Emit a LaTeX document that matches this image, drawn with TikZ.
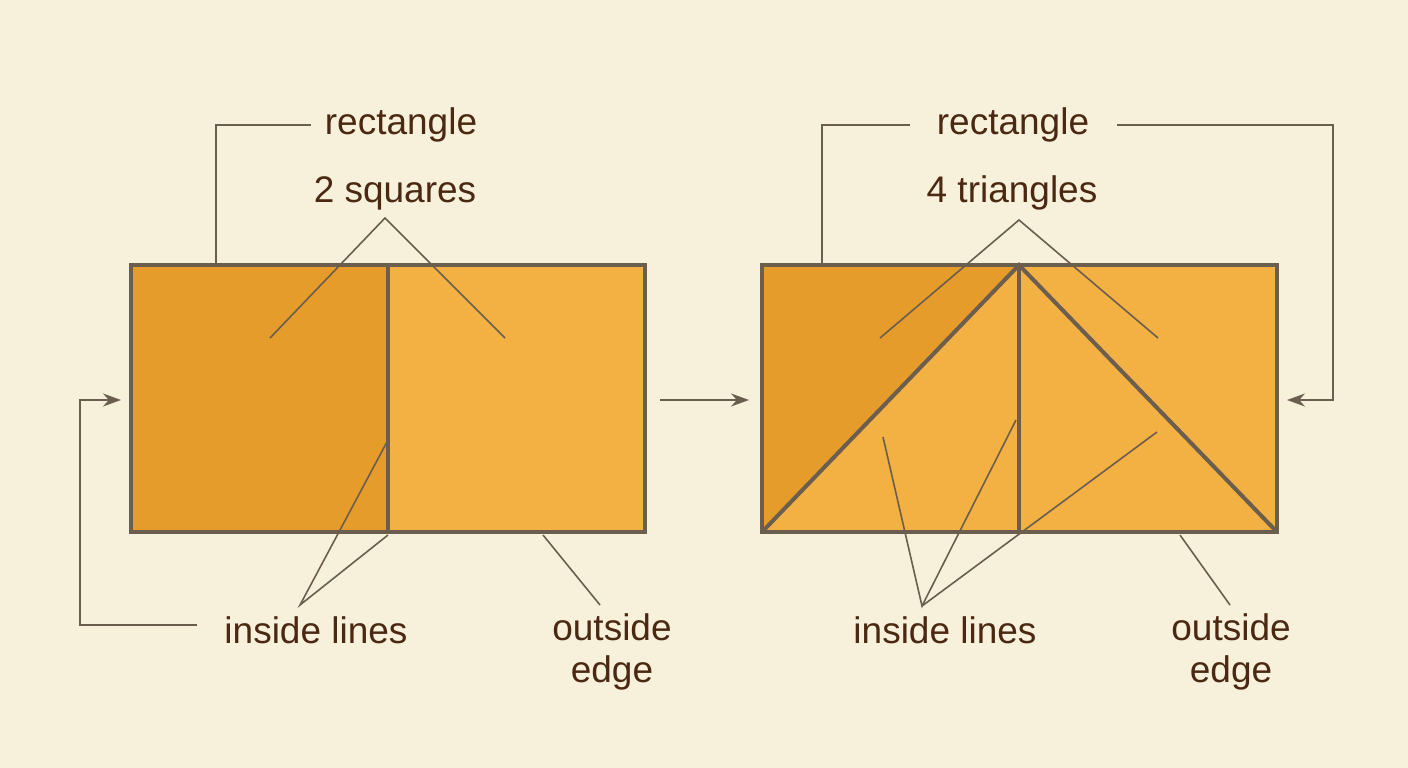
\documentclass[tikz,border=0pt]{standalone}
\usepackage{fontspec}
\setmainfont{Liberation Sans}
\usetikzlibrary{arrows.meta}
\definecolor{bg}{HTML}{F7F1DC}
\definecolor{dk}{HTML}{E59C2A}
\definecolor{lt}{HTML}{F3B043}
\definecolor{edge}{HTML}{6B5E4E}
\definecolor{txt}{HTML}{4A2812}
\begin{document}
\begin{tikzpicture}[x=1pt,y=-1pt,
  lbl/.style={text=txt,font=\fontsize{37}{42}\selectfont,inner sep=0pt,align=center},
  thin/.style={draw=edge,line width=1.6pt},
  thick/.style={draw=edge,line width=4pt,line join=miter},
  arr/.style={thin,-{Stealth[length=18pt,width=13pt]}}]
\useasboundingbox[fill=bg] (0,0) rectangle (1408,768);
% left figure
\fill[dk] (131,265) rectangle (388,532);
\fill[lt] (388,265) rectangle (645,532);
\draw[thick] (131,265) rectangle (645,532);
\draw[thick] (388,265) -- (388,532);
% right figure
\fill[lt] (762,265) rectangle (1277,532);
\fill[dk] (762,265) -- (1019,265) -- (762,532) -- cycle;
\draw[thick] (762,265) rectangle (1277,532);
\draw[thick] (1019,265) -- (1019,532);
\draw[thick] (762,532) -- (1019,265) -- (1277,532);
% labels
\node[lbl] (r1) at (401,125) {rectangle};
\node[lbl] (s1) at (395,193) {2 squares};
\node[lbl] (i1) at (316,630) {inside lines};
\node[lbl] (o1) at (612,652) {outside\\edge};
\node[lbl] (r2) at (1013,125) {rectangle};
\node[lbl] (t2) at (1012,193) {4 triangles};
\node[lbl] (i2) at (945,630) {inside lines};
\node[lbl] (o2) at (1231,652) {outside\\edge};
% connectors left
\coordinate (a1) at (216,125);
\coordinate (a2) at (216,265);
\draw[thin] (r1.west)++(-14,0) -- (a1) -- (a2);
\coordinate (p1) at (385,218);
\draw[thin] (270,338) -- (p1) -- (505,338);
\coordinate (q1) at (300,605);
\draw[thin] (388,440) -- (q1) -- (388,535);
\draw[thin] (600,605) -- (543,535);
\coordinate (b1) at (80,625);
\coordinate (b2) at (80,400);
\draw[arr] (197,625) -- (b1) -- (b2) -- (121,400);
\draw[arr] (660,400) -- (749,400);
% connectors right
\coordinate (c1) at (822,125);
\draw[thin] (910,125) -- (c1) -- (822,265);
\coordinate (c2) at (1333,125);
\coordinate (c3) at (1333,400);
\draw[arr] (1117,125) -- (c2) -- (c3) -- (1287,400);
\coordinate (p2) at (1019,220);
\draw[thin] (880,338) -- (p2) -- (1158,338);
\coordinate (q2) at (922,606);
\draw[thin] (883,437) -- (q2) -- (1016,420);
\draw[thin] (q2) -- (1157,432);
\draw[thin] (1230,605) -- (1180,535);
\end{tikzpicture}
\end{document}
